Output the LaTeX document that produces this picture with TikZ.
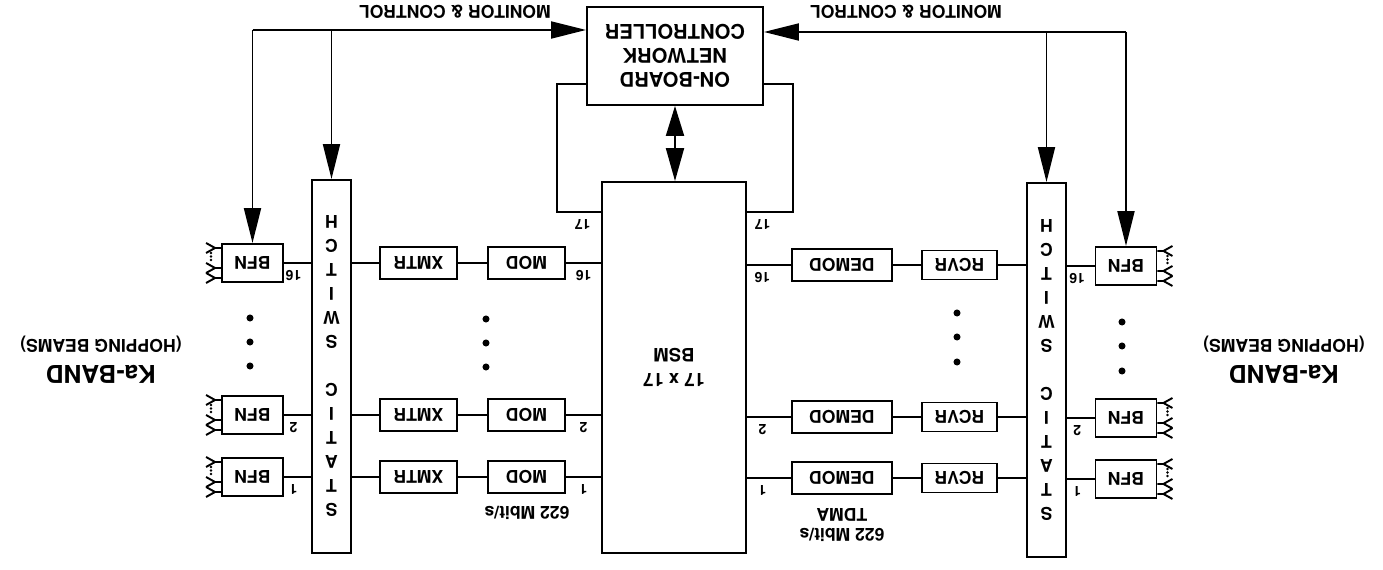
\documentclass[tikz,border=0pt]{standalone}
\usepackage{fontspec}
\setmainfont{TeX Gyre Heros}
\usetikzlibrary{arrows.meta}

\tikzset{
  blk/.style={draw, line width=1.1pt, minimum width=1.54cm, minimum height=0.64cm, inner sep=0pt, font=\bfseries\fontsize{10}{12}\selectfont},
  bfnbox/.style={blk, minimum width=1.22cm, minimum height=0.76cm},
  swbox/.style={blk, minimum width=0.78cm, align=center, font=\bfseries\fontsize{10}{13.66}\selectfont},
  lnk/.style={line width=0.9pt},
  ctl/.style={line width=1.1pt},
  num/.style={font=\bfseries\fontsize{8}{9}\selectfont, inner sep=1pt},
  bigtip/.style={-{Triangle[length=0.7cm, width=0.34cm]}},
  lbl/.style={font=\bfseries\fontsize{10}{12}\selectfont, align=center},
  antennas/.pic={
    \foreach \d in {-15,5,15}
      \draw[line width=1.1pt] (0,\d) -- (6,\d) -- (15,\d+5) (6,\d) -- (15,\d-5);
    \foreach \d in {-10,-6.5,-3}
      \fill (10,\d) circle (0.8pt);
  }
}

\begin{document}
\begin{tikzpicture}[x=0.02cm, y=0.02cm]
  \useasboundingbox (0,0) rectangle (1383,570);
  % the drawing is printed upside down
  \begin{scope}[rotate around={180:(691.5,285)}, transform shape]
    \node[blk, minimum width=3.52cm, minimum height=1.96cm, align=center, font=\bfseries\fontsize{11.5}{13.7}\selectfont] (ctrl) at (708,56) {ON-BOARD\\NETWORK\\CONTROLLER};
    \node[blk, minimum width=2.88cm, minimum height=7.42cm, align=center, font=\bfseries\fontsize{10.5}{14.2}\selectfont] (bsm) at (709,367.5) {17 x 17\\BSM};
    \node[swbox, minimum height=7.46cm] (swTx) at (1051.5,366.5) {S\\T\\A\\T\\I\\C\\[13.66pt]S\\W\\I\\T\\C\\H};
    \node[swbox, minimum height=7.48cm] (swRx) at (336.5,370) {S\\T\\A\\T\\I\\C\\[13.66pt]S\\W\\I\\T\\C\\H};

    % transmit side
    \foreach \r/\v in {1/477, 2/415, 16/263} {
      \node[blk] (mod\r) at (856.5,\v) {MOD};
      \node[blk] (xmtr\r) at (964.5,\v) {XMTR};
      \node[bfnbox] (bfnT\r) at (1130.5,\v) {BFN};
      \draw[lnk] (bsm.east |- mod\r.west) -- (mod\r.west) node[midway, above=3pt, num] {\r};
      \draw[lnk] (mod\r.east) -- (xmtr\r.west);
      \draw[lnk] (xmtr\r.east) -- (swTx.west |- xmtr\r.east);
      \draw[lnk] (swTx.east |- bfnT\r.west) -- (bfnT\r.west) node[pos=0.65, above=3pt, num] {\r};
      \pic at (bfnT\r.east) {antennas};
    }

    % receive side
    \foreach \r/\v in {1/478, 2/417, 16/265} {
      \node[blk, minimum width=2cm] (demod\r) at (541,\v) {DEMOD};
      \node[blk, minimum width=1.5cm, minimum height=0.58cm] (rcvr\r) at (423.5,\v) {RCVR};
      \node[bfnbox] (bfnR\r) at (257,\v+1) {BFN};
      \draw[lnk] (bsm.west |- demod\r.east) -- (demod\r.east) node[pos=0.35, above=3pt, num] {\r};
      \draw[lnk] (demod\r.west) -- (rcvr\r.east);
      \draw[lnk] (rcvr\r.west) -- (swRx.east |- rcvr\r.west);
      \draw[lnk] (swRx.west |- bfnR\r.east) -- (bfnR\r.east) node[pos=0.37, above=3pt, num] {\r};
      \pic[xscale=-1] at (bfnR\r.west) {antennas};
    }

    % continuation dots
    \foreach \v in {318,342,366} \fill (1133,\v) circle (2pt);
    \foreach \v in {319,343,367} \fill (897,\v) circle (2pt);
    \foreach \v in {313,337,362} \fill (426,\v) circle (2pt);
    \foreach \v in {322,346,371} \fill (261,\v) circle (2pt);

    % controller to BSM
    \draw[ctl, {Triangle[length=0.6cm, width=0.36cm]}-{Triangle[length=0.66cm, width=0.36cm]}] (ctrl.north) -- (ctrl.north |- bsm.south);
    \draw[ctl] (796,84) -| (826,212) -- (bsm.east |- 826,212) node[pos=0.58, above=3pt, num] {17};
    \draw[ctl] (620,84) -| (590,212) -- (bsm.west |- 590,212) node[pos=0.66, above=3pt, num] {17};

    % monitor and control
    \coordinate (mcT) at (bfnT16.south |- 0,30);
    \coordinate (mcR) at (bfnR16.south |- 0,32);
    \draw[ctl, bigtip] (mcT) -- (ctrl.east |- mcT);
    \draw[ctl, bigtip] (mcT) -- (bfnT16.south);
    \draw[ctl, bigtip] (swTx.south |- mcT) -- (swTx.south);
    \draw[ctl, bigtip] (mcR) -- (ctrl.west |- mcR);
    \draw[ctl, bigtip] (mcR) -- (bfnR16.south);
    \draw[ctl, bigtip] (swRx.south |- mcR) -- (swRx.south);
    \node[lbl] (mcTtext) at (928,12) {MONITOR \& CONTROL};
    \node[lbl] (mcRtext) at (477,12) {MONITOR \& CONTROL};

    % rates and bands
    \node[lbl] (rateT) at (856,513) {622 Mbit/s};
    \node[lbl, font=\bfseries\fontsize{10}{11.4}\selectfont] (rateR) at (541,525) {622 Mbit/s\\TDMA};
    \node[lbl, font=\bfseries\fontsize{10}{14.8}\selectfont] (bandT) at (1282,360) {{\fontsize{14}{14.8}\selectfont Ka-BAND}\\(HOPPING BEAMS)};
    \node[lbl, font=\bfseries\fontsize{10}{14.8}\selectfont] (bandR) at (99,360) {{\fontsize{14}{14.8}\selectfont Ka-BAND}\\(HOPPING BEAMS)};
  \end{scope}
\end{tikzpicture}
\end{document}
